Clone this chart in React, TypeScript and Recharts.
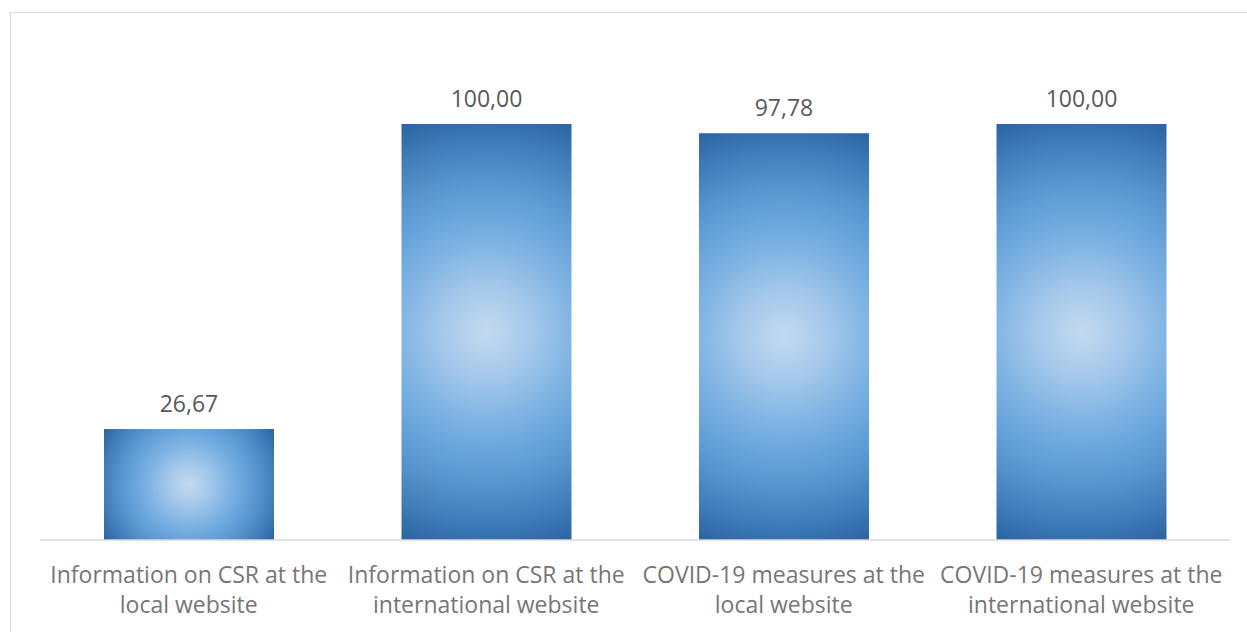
import React from "react";
import { BarChart, Bar, XAxis, YAxis, LabelList } from "recharts";

const categoriesLine1 = [
  "Information on CSR at the",
  "Information on CSR at the",
  "COVID-19 measures at the",
  "COVID-19 measures at the",
];
const categoriesLine2 = [
  "local website",
  "international website",
  "local website",
  "international website",
];
const values = [26.67, 100.0, 97.78, 100.0];

const data = values.map((v, i) => ({
  name: categoriesLine1[i] + " " + categoriesLine2[i],
  idx: i,
  value: v,
}));

const FONT = "'Open Sans', sans-serif";

const GradBar = (props: any) => {
  const { x, y, width, height, index } = props;
  if (width == null || height == null) return null;
  const cx = x + width / 2;
  const cy = y + height / 2;
  const r = Math.sqrt(width * width + height * height) / 2;
  const id = `barGrad${index}`;
  return (
    <g>
      <defs>
        <radialGradient id={id} gradientUnits="userSpaceOnUse" cx={cx} cy={cy} r={r} fx={cx} fy={cy}>
          <stop offset="0" stopColor="#c3daf0" />
          <stop offset="0.2" stopColor="#a5c8eb" />
          <stop offset="0.4" stopColor="#7eb3e3" />
          <stop offset="0.55" stopColor="#67a3db" />
          <stop offset="0.7" stopColor="#5592cc" />
          <stop offset="0.85" stopColor="#3f7cb8" />
          <stop offset="1" stopColor="#2a63a0" />
        </radialGradient>
      </defs>
      <rect x={x} y={y} width={width} height={height} fill={`url(#${id})`} />
    </g>
  );
};

const CatTick = (props: any) => {
  const { x, payload } = props;
  const i = payload.index;
  return (
    <text x={x} textAnchor="middle" fontFamily={FONT} fontSize={23} fill="#767676">
      <tspan x={x} y={583}>{categoriesLine1[i]}</tspan>
      <tspan x={x} y={613}>{categoriesLine2[i]}</tspan>
    </text>
  );
};

const fmt = (v: any) => Number(v).toFixed(2).replace(".", ",");

export default function App() {
  return (
    <div style={{ position: "absolute", left: 0, top: 0, width: 1247, height: 632, overflow: "hidden", background: "#fff" }}>
      <div
        style={{
          position: "absolute",
          left: 10,
          top: 12,
          width: 1260,
          height: 660,
          border: "1px solid #d9d9d9",
          boxSizing: "border-box",
        }}
      />
      <div style={{ position: "absolute", left: 0, top: 0 }}>
        <BarChart
          width={1247}
          height={632}
          data={data}
          margin={{ top: 124, right: 17, bottom: 0, left: 40 }}
        >
          <XAxis
            dataKey="name"
            height={92}
            tickLine={false}
            axisLine={{ stroke: "#d9d9d9", strokeWidth: 1.5 }}
            tick={<CatTick />}
            interval={0}
          />
          <YAxis hide domain={[0, 100]} />
          <Bar dataKey="value" barSize={170} shape={<GradBar />} isAnimationActive={false}>
            <LabelList
              dataKey="value"
              position="top"
              offset={17}
              formatter={fmt}
              style={{ fontFamily: FONT, fontSize: 23, fill: "#595959" }}
            />
          </Bar>
        </BarChart>
      </div>
    </div>
  );
}
